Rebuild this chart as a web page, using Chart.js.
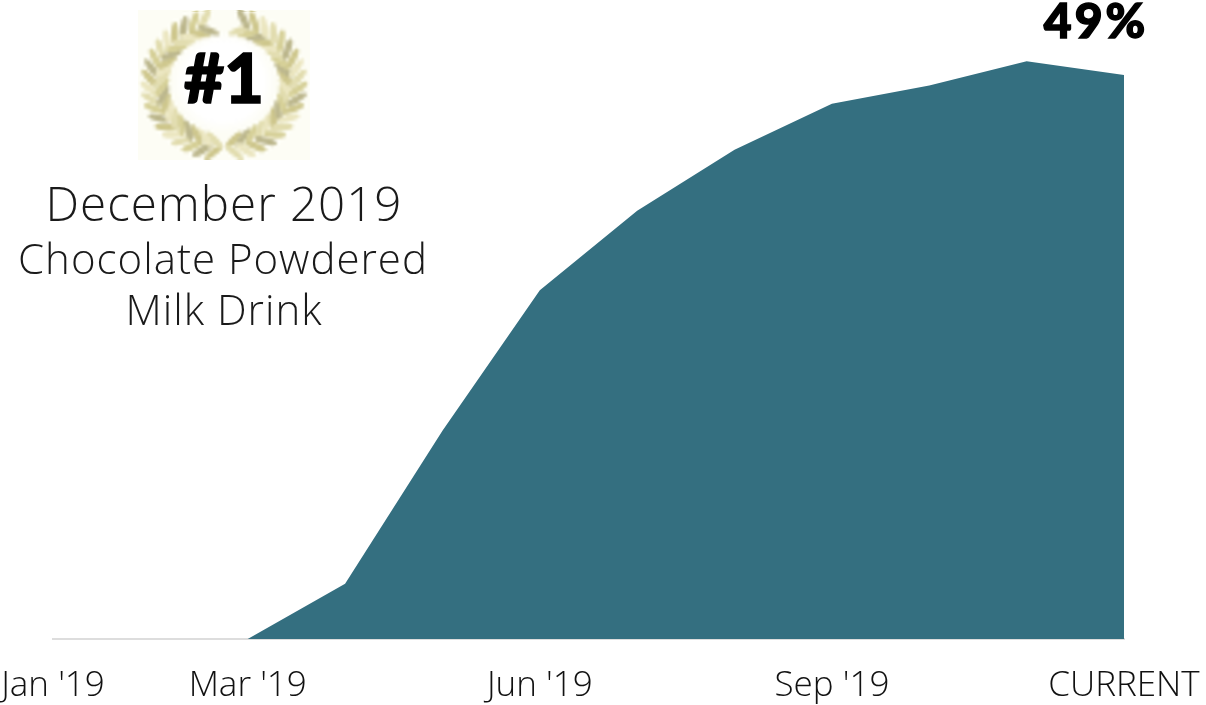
<!DOCTYPE html>
<html>
<head>
<meta charset="utf-8">
<title>December 2019 Chocolate Powdered Milk Drink</title>
<script src="https://cdn.jsdelivr.net/npm/chart.js@4/dist/chart.umd.min.js"></script>
<style>
    html, body { margin: 0; padding: 0; background: #ffffff; overflow: hidden; }
    canvas { display: block; }
</style>
</head>
<body>
<canvas id="share-chart" width="1206" height="705"></canvas>
<script>
// Values
const months = ["Jan '19", "Feb '19", "Mar '19", "Apr '19", "May '19", "Jun '19", "Jul '19", "Aug '19", "Sep '19", "Oct '19", "Nov '19", "CURRENT"];
const shareValues = [0, 0, 0, 4.8, 18.1, 30.3, 37.2, 42.5, 46.5, 48.1, 50.2, 49];
const shownMonths = ["Jan '19", "Mar '19", "Jun '19", "Sep '19", "CURRENT"];
const rankLabel = '#1';
const currentLabel = '49%';
const titleLines = ['December 2019', 'Chocolate Powdered', 'Milk Drink'];

const textFont = '"Open Sans"';
const boldFont = 'Lato';

// Small blurry laurel wreath, drawn low-res and scaled up like the original bitmap
function drawWreath(ctx) {
    const small = document.createElement('canvas');
    small.width = 57;
    small.height = 50;
    const s = small.getContext('2d');
    s.fillStyle = '#fdfdf5';
    s.fillRect(0, 0, 57, 50);
    const leafColors = ['#cfc88f', '#e2ddb0', '#bdb88e', '#ebe6c0', '#d6d098'];
    [-1, 1].forEach(side => {
        for (let i = 0; i < 19; i++) {
            // walk up the ring from the bottom, leaving a gap at the top
            const angle = 0.05 + i * 0.152;
            const px = 28.5 + side * Math.sin(angle) * 22.5;
            const py = 25 + Math.cos(angle) * 20.5;
            const heading = Math.atan2(-Math.sin(angle), side * Math.cos(angle));
            [-0.75, 0.75].forEach((spread, k) => {
                s.save();
                s.translate(px, py);
                s.rotate(heading + spread);
                s.fillStyle = leafColors[(i * 2 + k) % leafColors.length];
                s.beginPath();
                s.ellipse(3, 0, 3.8, 1.2, 0, 0, Math.PI * 2);
                s.fill();
                s.restore();
            });
        }
    });
    const centre = s.createRadialGradient(28.5, 24, 13, 28.5, 24, 17);
    centre.addColorStop(0, '#ffffff');
    centre.addColorStop(1, 'rgba(255,255,255,0)');
    s.fillStyle = centre;
    s.fillRect(0, 0, 57, 50);
    ctx.imageSmoothingEnabled = true;
    ctx.imageSmoothingQuality = 'high';
    ctx.drawImage(small, 138, 10, 172, 150);
}

const annotations = {
    id: 'annotations',
    afterDatasetsDraw(chart) {
        const ctx = chart.ctx;
        const lastX = chart.scales.x.getPixelForValue(months.length - 1);
        ctx.save();
        drawWreath(ctx);
        ctx.fillStyle = '#000000';
        ctx.strokeStyle = '#000000';
        ctx.textAlign = 'center';
        ctx.textBaseline = 'alphabetic';
        ctx.letterSpacing = '0px';
        ctx.font = `900 69px ${boldFont}`;
        ctx.lineWidth = 1.5;
        ctx.strokeText(rankLabel, 224, 103);
        ctx.fillText(rankLabel, 224, 103);
        ctx.letterSpacing = '3px';
        ctx.font = `900 48px ${boldFont}`;
        ctx.strokeText(currentLabel, lastX - 28, 38);
        ctx.fillText(currentLabel, lastX - 28, 38);
        ctx.fillStyle = '#1a1a1a';
        ctx.letterSpacing = '1px';
        ctx.font = `300 47.5px ${textFont}`;
        ctx.fillText(titleLines[0], 224, 221);
        ctx.font = `300 42px ${textFont}`;
        ctx.fillText(titleLines[1], 223, 274);
        ctx.fillText(titleLines[2], 224, 325);
        ctx.restore();
    }
};

const chartCanvas = document.getElementById('share-chart');
chartCanvas.getContext('2d').letterSpacing = '1px'; // tick labels are a bit wider in the original

new Chart(chartCanvas, {
    type: 'line',
    plugins: [annotations],
    data: {
        labels: months,
        datasets: [
            {
                data: shareValues,
                fill: 'origin',
                backgroundColor: '#346f80',
                borderWidth: 0,
                pointRadius: 0,
                tension: 0
            }
        ]
    },
    options: {
        responsive: false,
        animation: false,
        layout: {
            padding: { left: 53, right: 82, top: 6, bottom: 0 }
        },
        plugins: {
            legend: { display: false },
            tooltip: { enabled: false }
        },
        scales: {
            x: {
                offset: false,
                grid: { display: false },
                border: { display: true, color: '#dddddd', width: 2 },
                afterFit(scale) {
                    scale.paddingLeft = 0;
                    scale.paddingRight = 0;
                    scale.height = 66; // keeps the baseline where the original has it
                },
                ticks: {
                    autoSkip: false,
                    maxRotation: 0,
                    minRotation: 0,
                    padding: 18,
                    color: '#111111',
                    font: { family: 'Open Sans', size: 35, weight: '300' },
                    callback(value) {
                        const label = months[value];
                        return shownMonths.includes(label) ? label : '';
                    }
                }
            },
            y: {
                display: false,
                min: 0,
                max: 55
            }
        }
    }
});
</script>
</body>
</html>
